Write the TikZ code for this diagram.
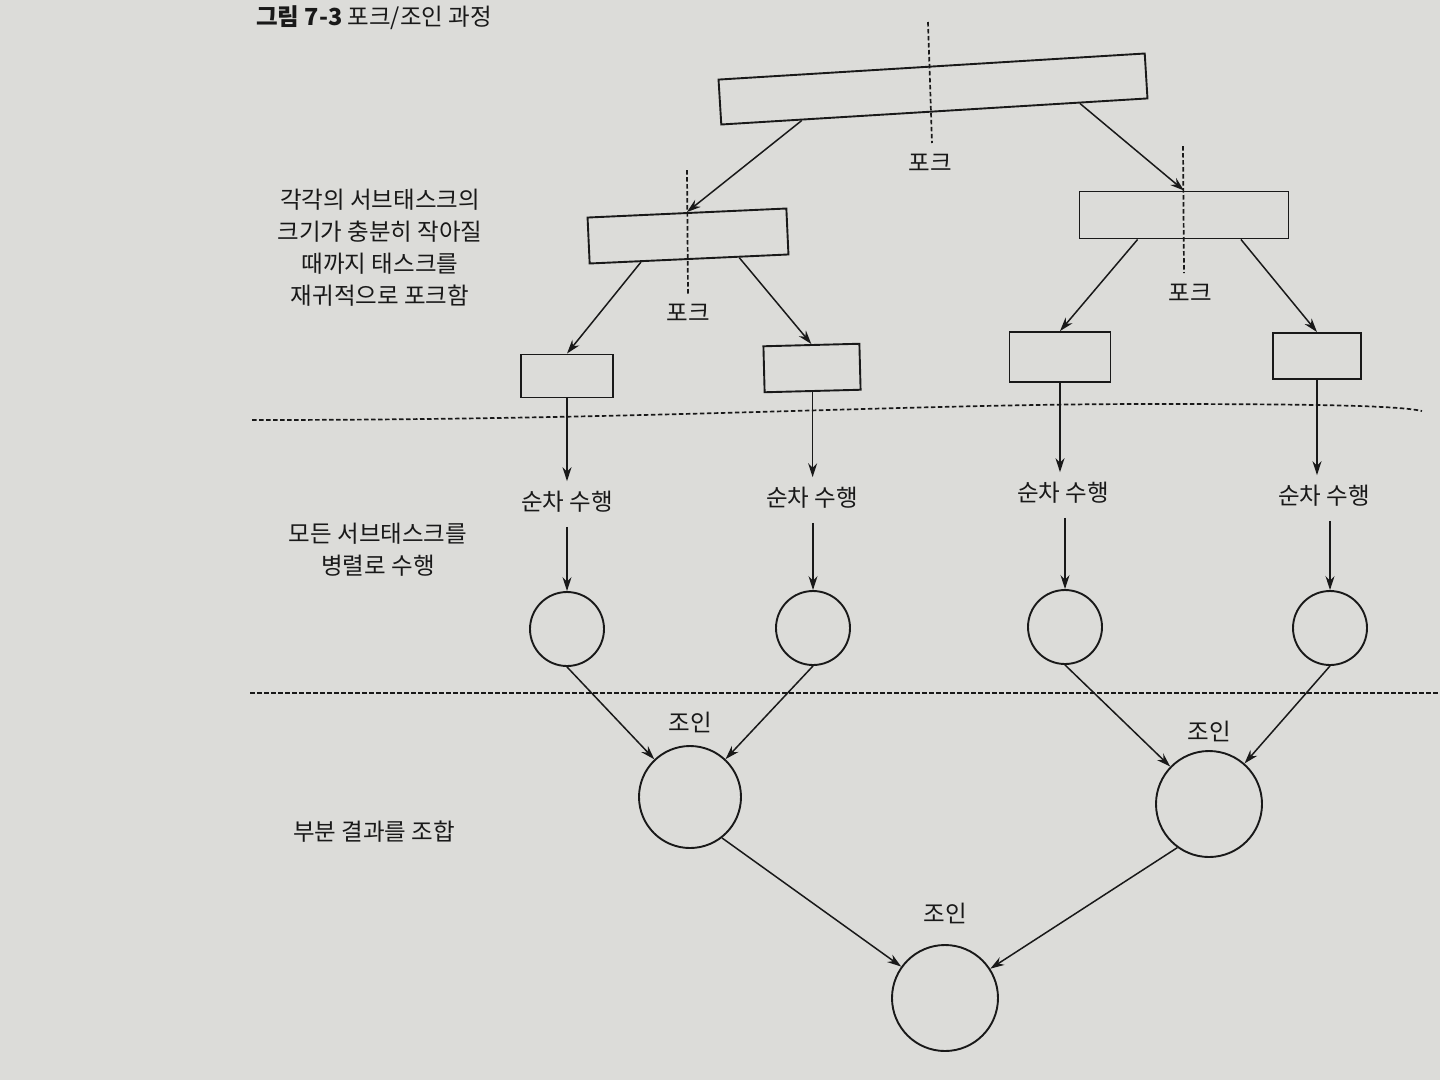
\documentclass[tikz,border=0pt]{standalone}
\usepackage{fontspec}
\setmainfont{Noto Sans CJK KR}
\usetikzlibrary{arrows.meta,calc}
\definecolor{paper}{RGB}{220,220,217}
\definecolor{ink}{RGB}{25,25,25}
\begin{document}
\begin{tikzpicture}[x=1pt,y=-1pt,
  every node/.style={text=ink},
  lbl/.style={font=\fontsize{23.5}{32}\selectfont, align=center, inner sep=0pt},
  task/.style={draw=ink, line width=1.9pt, rectangle, inner sep=0pt},
  sub/.style={task, minimum width=92pt, minimum height=44pt},
  res/.style={draw=ink, line width=1.9pt, circle, minimum size=74pt, inner sep=0pt},
  jn/.style={draw=ink, line width=1.9pt, circle, minimum size=102pt, inner sep=0pt},
  arr/.style={draw=ink, line width=1.5pt, -{Stealth[length=14pt,width=9pt]}},
  cut/.style={draw=ink, line width=1.7pt, dash pattern=on 4.5pt off 2.5pt},
]
\useasboundingbox (0,0) rectangle (1440,1080);
\fill[paper] (0,0) rectangle (1440,1080);

% caption
\node[lbl, anchor=west] (cap) at (256,18) {\textbf{그림 7-3} 포크/조인 과정};

% tasks
\node[task, minimum width=427pt, minimum height=45pt, rotate=3.5] (top) at (933,89) {};
\node[task, minimum width=199pt, minimum height=46pt, rotate=2.6] (m1) at (688,236) {};
\node[task, minimum width=209pt, minimum height=47pt] (m2) at (1184,215) {};

\node[sub, minimum width=92pt, minimum height=43pt] (b1) at (567,376) {};
\node[sub, minimum width=96pt, minimum height=46pt, rotate=1.5] (b2) at (812,368) {};
\node[sub, minimum width=101pt, minimum height=50pt] (b3) at (1060,357) {};
\node[sub, minimum width=88pt, minimum height=46pt] (b4) at (1317,356) {};

% fork cut lines
\draw[cut] (928,22) -- (932,143);
\draw[cut] (687,170) -- (688,295);
\draw[cut] (1183,146) -- (1184,273);
\node[lbl] (f0) at (930,163) {포크};
\node[lbl] (f1) at (688,313) {포크};
\node[lbl] (f2) at (1190,293) {포크};

% fork arrows
\draw[arr] ($(top.south west)!0.19!(top.south east)$) -- (m1.north);
\draw[arr] ($(top.south west)!0.84!(top.south east)$) -- (m2.north);
\draw[arr] ($(m1.south west)!0.26!(m1.south east)$) -- (b1.north);
\draw[arr] ($(m1.south west)!0.75!(m1.south east)$) -- (b2.north);
\draw[arr] ($(m2.south west)!0.28!(m2.south east)$) -- (b3.north);
\draw[arr] ($(m2.south west)!0.77!(m2.south east)$) -- (b4.north);

% sequential execution
\node[lbl] (s1) at (567,502) {순차 수행};
\node[lbl] (s2) at (812,498) {순차 수행};
\node[lbl] (s3) at (1063,493) {순차 수행};
\node[lbl] (s4) at (1324,496) {순차 수행};
\draw[arr] (b1.south) -- ($(b1.south |- s1.north)+(0,-10)$);
\draw[arr] (b2.south) -- ($(b2.south |- s2.north)+(0,-10)$);
\draw[arr] (b3.south) -- ($(b3.south |- s3.north)+(0,-10)$);
\draw[arr] (b4.south) -- ($(b4.south |- s4.north)+(0,-10)$);

% results
\node[res] (c1) at (567,629) {};
\node[res] (c2) at (813,628) {};
\node[res] (c3) at (1065,627) {};
\node[res] (c4) at (1330,628) {};
\draw[arr] ($(c1.north |- s1.south)+(0,14)$) -- (c1.north);
\draw[arr] ($(c2.north |- s2.south)+(0,14)$) -- (c2.north);
\draw[arr] ($(c3.north |- s3.south)+(0,14)$) -- (c3.north);
\draw[arr] ($(c4.north |- s4.south)+(0,14)$) -- (c4.north);

% separators
\draw[cut] (252,420) .. controls (650,420) and (900,404) .. (1150,404)
           .. controls (1330,404) and (1400,406) .. (1422,411);
\draw[cut] (250,693) -- (1440,693);

% joins
\node[jn] (j1) at (690,797) {};
\node[jn, minimum size=106pt] (j2) at (1209,804) {};
\node[jn, minimum size=106pt] (j3) at (945,998) {};
\node[lbl] (t1) at (690,722) {조인};
\node[lbl] (t2) at (1209,731) {조인};
\node[lbl] (t3) at (945,913) {조인};

\draw[arr] (c1.south) -- (j1);
\draw[arr] (c2.south) -- (j1);
\draw[arr] (c3.south) -- (j2);
\draw[arr] (c4.south) -- (j2);
\draw[arr] (j1.-52) -- (j3);
\draw[arr] (j2.-126) -- (j3);

% side notes
\node[lbl] (n1) at (380,248) {각각의 서브태스크의\\크기가 충분히 작아질\\때까지 태스크를\\재귀적으로 포크함};
\node[lbl] (n2) at (378,550) {모든 서브태스크를\\병렬로 수행};
\node[lbl] (n3) at (374,832) {부분 결과를 조합};
\end{tikzpicture}
\end{document}
